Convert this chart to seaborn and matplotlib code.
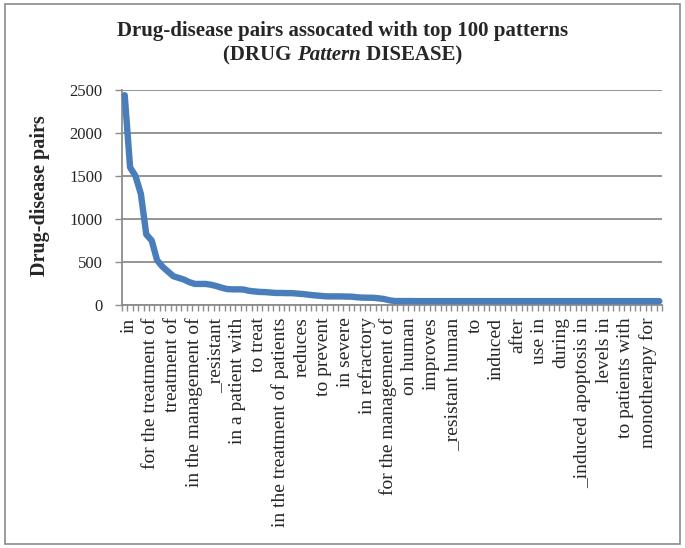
import numpy as np
import pandas as pd
import matplotlib
matplotlib.use('Agg')
import matplotlib.pyplot as plt
import seaborn as sns
from matplotlib.patches import Rectangle
from matplotlib.ticker import FixedLocator
from matplotlib.transforms import ScaledTranslation

# drug-disease pair counts for the top 100 patterns
pair_counts = [2440, 1600, 1500, 1290, 820, 750, 520, 445, 390, 335,
               315, 295, 265, 245, 245, 245, 235, 220, 200, 185,
               182, 182, 180, 165, 158, 152, 150, 145, 140, 140,
               138, 138, 132, 128, 120, 113, 108, 102, 100, 100,
               100, 98, 97, 90, 86, 85, 84, 78, 70, 55,
               46, 46, 46, 46, 45, 45, 45, 45, 45, 45,
               45, 45, 45, 45, 45, 45, 45, 45, 45, 45,
               45, 45, 45, 45, 45, 45, 45, 45, 45, 45,
               45, 45, 45, 45, 45, 45, 45, 45, 45, 45,
               45, 45, 45, 45, 45, 45, 45, 45, 45, 45]

# only every 4th pattern gets a label on the axis
pattern_labels = ['in', 'for the treatment of', 'treatment of',
                  'in the management of', '_resistant', 'in a patient with',
                  'to treat', 'in the treatment of patients', 'reduces',
                  'to prevent', 'in severe', 'in refractory',
                  'for the management of', 'on human', 'improves',
                  '_resistant human', 'to', 'induced', 'after', 'use in',
                  'during', '_induced apoptosis in', 'levels in',
                  'to patients with', 'monotherapy for']
label_positions = list(range(0, 100, 4))

y_ticks = [0, 500, 1000, 1500, 2000, 2500]

df = pd.DataFrame({'rank': np.arange(len(pair_counts)), 'pairs': pair_counts})

sns.set_style('white')
plt.rcParams['font.family'] = ['Liberation Serif', 'DejaVu Serif']

grid_col = '#8c8c8c'
line_col = '#4a7ebb'

fig = plt.figure(figsize=(6.85, 5.48), dpi=100)
ax = fig.add_axes([122 / 685, 1 - 305 / 548, 540 / 685, 215 / 548])

sns.lineplot(data=df, x='rank', y='pairs', ax=ax, color=line_col,
             linewidth=4.6, solid_capstyle='round', solid_joinstyle='round',
             clip_on=False, zorder=3)

ax.set_xlim(-0.5, 99.5)
ax.set_ylim(0, 2500)
ax.set_yticks(y_ticks)
ax.set_yticklabels([str(v) for v in y_ticks], fontsize=12)
ax.yaxis.grid(True, color=grid_col, linewidth=1.3)
ax.set_axisbelow(True)

ax.set_xticks(label_positions)
ax.set_xticklabels(pattern_labels, rotation=90, fontsize=14, va='top', ha='center')
ax.xaxis.set_minor_locator(FixedLocator(np.arange(-0.5, 100, 1)))
ax.tick_params(axis='x', which='major', length=0, pad=9)
ax.tick_params(axis='x', which='minor', length=4, width=1, color=grid_col,
               direction='out', bottom=True)
ax.tick_params(axis='y', length=5, width=1, color=grid_col, direction='out',
               left=True, pad=9)

# nudge the rotated labels a little to the right, like the original
shift = ScaledTranslation(4.5 / 100, 0, fig.dpi_scale_trans)
for tick in ax.xaxis.get_major_ticks():
    tick.label1.set_transform(tick.label1.get_transform() + shift)

for side in ['top', 'right']:
    ax.spines[side].set_visible(False)
ax.spines['left'].set_color(grid_col)
ax.spines['left'].set_linewidth(1.3)
ax.spines['bottom'].set_color(grid_col)
ax.spines['bottom'].set_linewidth(1.3)

ax.set_xlabel('')
ax.set_ylabel('')
fig.text(40 / 685, 1 - 196 / 548, 'Drug-disease pairs', rotation=90,
         fontsize=14.5, fontweight='bold', ha='center', va='center')

# title, second line has an italic word in the middle
fig.text(0.5, 1 - 31 / 548, 'Drug-disease pairs assocated with top 100 patterns',
         fontsize=15, fontweight='bold', ha='center', va='center')

renderer = fig.canvas.get_renderer()
pieces = [('(DRUG ', 'normal'), ('Pattern', 'italic'), (' DISEASE)', 'normal')]
texts = []
for s, st in pieces:
    t = fig.text(0, 1 - 55 / 548, s, fontsize=15, fontweight='bold',
                 style=st, ha='left', va='center')
    texts.append(t)
widths = [t.get_window_extent(renderer).width for t in texts]
x0 = 342.5 - sum(widths) / 2
for t, w in zip(texts, widths):
    t.set_x(x0 / 685)
    x0 += w

fig.patches.append(Rectangle((5 / 685, 4 / 548), 675 / 685, 540 / 548,
                             transform=fig.transFigure, fill=False,
                             edgecolor='#8a8a8a', linewidth=1.2))

fig.savefig('out.png', dpi=100)
